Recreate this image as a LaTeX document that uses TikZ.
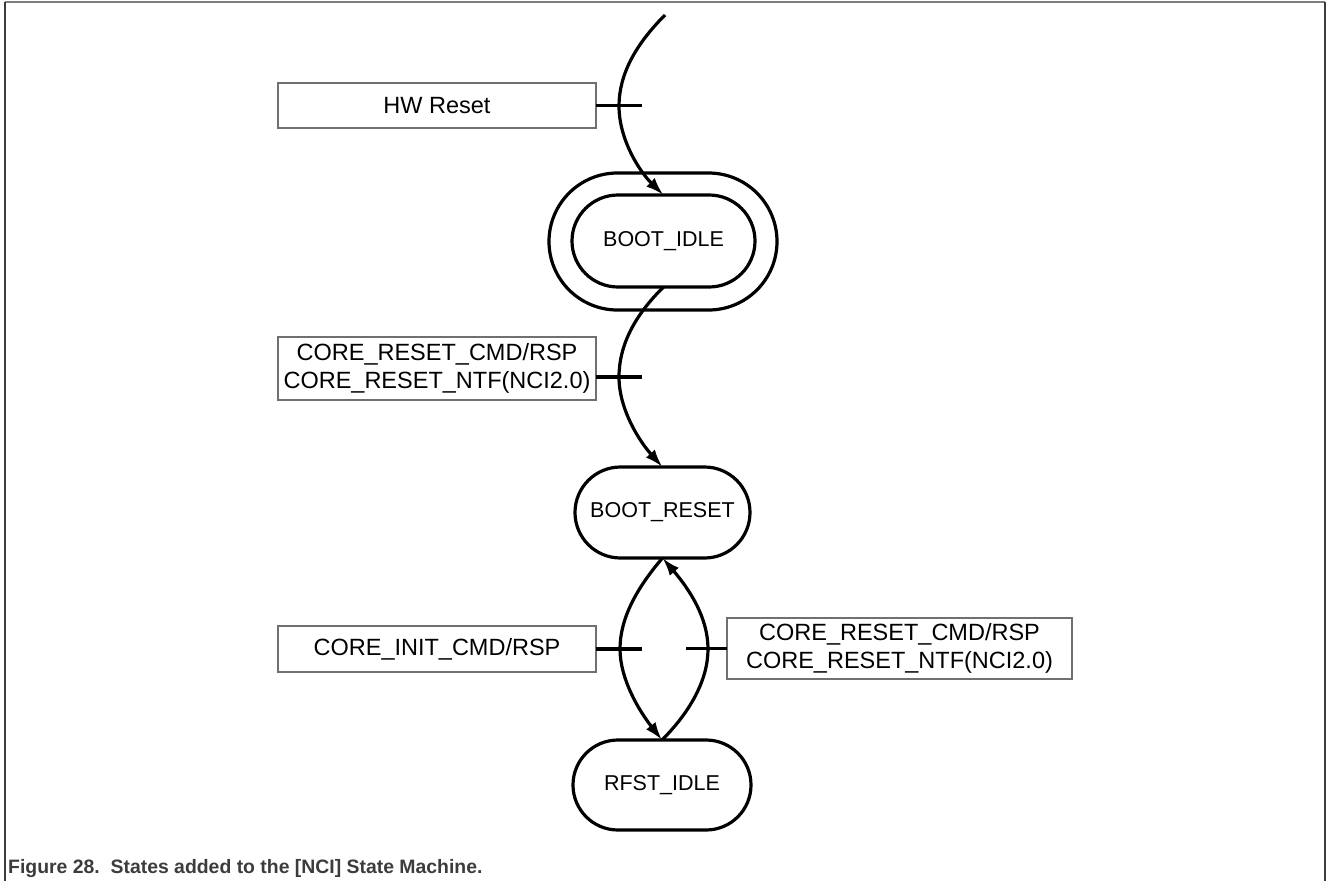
\documentclass[tikz,border=0pt]{standalone}
\usepackage{fontspec}
\setmainfont{Liberation Sans}
\usetikzlibrary{arrows.meta}
\definecolor{boxgray}{HTML}{707070}
\definecolor{capgray}{HTML}{3C3C3C}
\tikzset{
  lbl/.style={draw=boxgray, line width=1.5pt, inner sep=0pt, outer sep=0pt, align=center,
    font=\fontsize{23.5}{28}\selectfont},
  stbox/.style={draw=black, line width=3.2pt, inner sep=0pt, outer sep=0pt,
    font=\fontsize{21.5}{26}\selectfont},
  trans/.style={line width=3.2pt, -{Latex[length=18pt,width=12pt]}},
  tick/.style={line width=3.2pt},
}
\begin{document}
\begin{tikzpicture}[x=1pt,y=-1pt]
\useasboundingbox (0,0) rectangle (1326,881);
% frame
\draw[color=boxgray!90, line width=1.5pt] (5,2) -- (1325,2);
\draw[color=capgray, line width=2pt] (5,2) -- (5,881);
\draw[color=capgray, line width=2pt] (1325,2) -- (1325,881);
% states
\node[stbox, minimum width=228pt, minimum height=137pt, rounded corners=68.5pt] (idleo) at (663,241.5) {};
\node[stbox, minimum width=183pt, minimum height=92pt, rounded corners=46pt] (idle) at (663.5,241) {BOOT\_IDLE};
\node[stbox, minimum width=175pt, minimum height=91pt, rounded corners=45.5pt] (reset) at (662.5,512.5) {BOOT\_RESET};
\node[stbox, minimum width=178pt, minimum height=90pt, rounded corners=45pt] (rfst) at (662,785) {RFST\_IDLE};
% label boxes
\node[lbl, minimum width=318pt, minimum height=45pt] (hw) at (437,105.5) {HW Reset};
\node[lbl, minimum width=318pt, minimum height=63pt] (cr1) at (437,368.5) {CORE\_RESET\_CMD/RSP\\CORE\_RESET\_NTF(NCI2.0)};
\node[lbl, minimum width=318pt, minimum height=46pt] (ci) at (437,649) {CORE\_INIT\_CMD/RSP};
\node[lbl, minimum width=345pt, minimum height=61pt] (cr2) at (899.5,648.5) {CORE\_RESET\_CMD/RSP\\CORE\_RESET\_NTF(NCI2.0)};
% coordinates
\coordinate (start) at (665,15);
\coordinate (t1) at (642,105.5);
\coordinate (t2) at (642,377);
\coordinate (t3) at (642,649);
\coordinate (t4) at (686,648.5);
% transitions
\draw[trans] (start) .. controls (635,45) and (619,75) .. (619,106) .. controls (619,140) and (640,172) .. (idle.north);
\draw[trans] (idle.south) .. controls (635,315) and (619,345) .. (619,377) .. controls (619,410) and (640,442) .. (reset.north);
\draw[trans] (reset.south) .. controls (635,590) and (620,620) .. (620,649) .. controls (620,680) and (640,712) .. (rfst.north);
\draw[trans] (rfst.north) .. controls (690,712) and (708,680) .. (708,649) .. controls (708,618) and (690,590) .. (reset.south);
% ticks
\draw[tick] (hw.east) -- (t1);
\draw[tick] (cr1.east |- t2) -- (t2);
\draw[tick] (ci.east) -- (t3);
\draw[tick] (t4) -- (cr2.west);
% caption
\node[anchor=base west, inner sep=0pt, text=capgray, font=\bfseries\fontsize{19.4}{24}\selectfont] (cap) at (8,873) {Figure 28.\ \ States added to the [NCI] State Machine.};
\end{tikzpicture}
\end{document}
